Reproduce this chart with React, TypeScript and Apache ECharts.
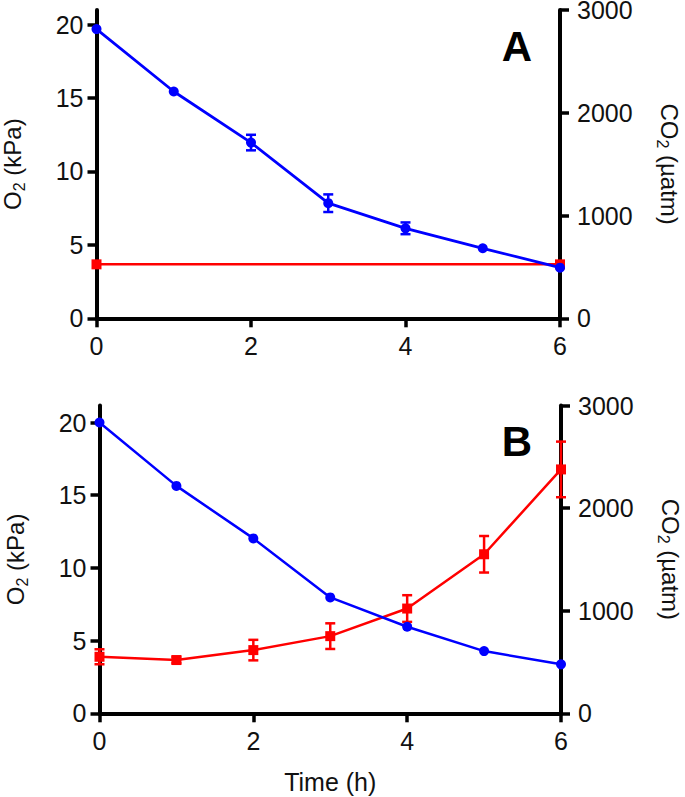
import React, { useEffect, useRef } from "react";
import * as echarts from "echarts";

// ---- data ----
const hours = [0, 1, 2, 3, 4, 5, 6];
const xTicks = [0, 2, 4, 6];
const o2Ticks = [0, 5, 10, 15, 20];
const co2Ticks = [0, 1000, 2000, 3000];

// Panel A
const o2A = [19.7, 15.45, 11.97, 7.84, 6.13, 4.77, 3.45];
const o2AErr = [0, 0, 0.53, 0.6, 0.4, 0, 0];
const co2AHours = [0, 6];
const co2A = [525, 525];

// Panel B
const o2B = [20.0, 15.64, 12.03, 7.97, 5.95, 4.28, 3.37];
const co2B = [551, 519, 616, 752, 1021, 1550, 2377];
const co2BErr = [73, 30, 100, 125, 130, 178, 271];

const FONT = "Liberation Sans, Arial, Helvetica, sans-serif";
const BLUE = "#0000ff";
const RED = "#ff0000";
const INK = "#111111";
const TICK_FS = 25;
const TITLE_FS = 24;

function errData(xs: number[], ys: number[], es: number[]) {
  const out: number[][] = [];
  xs.forEach((x, i) => {
    if (es[i] > 0) out.push([x, ys[i] - es[i], ys[i] + es[i]]);
  });
  return out;
}

function errSeries(data: number[][], color: string, xi: number, yi: number) {
  return {
    type: "custom",
    xAxisIndex: xi,
    yAxisIndex: yi,
    z: 3,
    silent: true,
    clip: false,
    data,
    encode: { x: 0, y: [1, 2] },
    renderItem: (params: any, api: any) => {
      const x = api.value(0);
      const lo = api.coord([x, api.value(1)]);
      const hi = api.coord([x, api.value(2)]);
      const half = 5;
      const st = { stroke: color, lineWidth: 2.5 };
      return {
        type: "group",
        children: [
          { type: "line", shape: { x1: lo[0], y1: lo[1], x2: hi[0], y2: hi[1] }, style: st },
          { type: "line", shape: { x1: lo[0] - half, y1: lo[1], x2: lo[0] + half, y2: lo[1] }, style: st },
          { type: "line", shape: { x1: hi[0] - half, y1: hi[1], x2: hi[0] + half, y2: hi[1] }, style: st },
        ],
      };
    },
  };
}

const richName = {
  n: { fontSize: TITLE_FS, fontFamily: FONT, color: INK, lineHeight: 22 },
  s: { fontSize: 16, fontFamily: FONT, color: INK, lineHeight: 6, padding: [14, 0, 0, 0] },
};

const axisLineStyle = { show: true, lineStyle: { color: "#000", width: 4 } };
const tickStyle = (vals: number[]) => ({
  show: true,
  length: 9,
  customValues: vals,
  lineStyle: { color: "#000", width: 3.5 },
});
const labelStyle = (vals: number[], margin: number) => ({
  customValues: vals,
  fontSize: TICK_FS,
  lineHeight: 18,
  fontFamily: FONT,
  color: INK,
  margin,
  formatter: (v: number) => String(v),
});

function xAxis(gi: number, withName: boolean) {
  return {
    type: "value",
    gridIndex: gi,
    min: 0,
    max: 6,
    interval: 2,
    axisLine: axisLineStyle,
    axisTick: tickStyle(xTicks),
    axisLabel: labelStyle(xTicks, 19),
    splitLine: { show: false },
    name: withName ? "Time (h)" : "",
    nameLocation: "middle",
    nameGap: 58,
    nameTextStyle: { fontSize: 25, lineHeight: 22, fontFamily: FONT, color: INK },
  };
}

function leftAxis(gi: number, max: number) {
  return {
    type: "value",
    gridIndex: gi,
    position: "left",
    min: 0,
    max,
    interval: 5,
    axisLine: axisLineStyle,
    axisTick: tickStyle(o2Ticks),
    axisLabel: labelStyle(o2Ticks, 13),
    splitLine: { show: false },
    name: "{n|O}{s|2}{n| (kPa)}",
    nameLocation: "middle",
    nameGap: 73,
    nameTextStyle: { rich: richName },
  };
}

function rightAxis(gi: number) {
  return {
    type: "value",
    gridIndex: gi,
    position: "right",
    min: 0,
    max: 3000,
    interval: 1000,
    axisLine: axisLineStyle,
    axisTick: tickStyle(co2Ticks),
    axisLabel: labelStyle(co2Ticks, 17),
    splitLine: { show: false },
    name: "{n|CO}{s|2}{n| (µatm)}",
    nameLocation: "middle",
    nameRotate: -90,
    nameGap: 98,
    nameTextStyle: { rich: richName },
  };
}

export default function App() {
  const ref = useRef<HTMLDivElement>(null);
  useEffect(() => {
    document.body.style.margin = "0";
    if (!ref.current) return;
    const chart = echarts.init(ref.current, null, { renderer: "svg" });
    const option: any = {
      animation: false,
      backgroundColor: "#ffffff",
      textStyle: { fontFamily: FONT },
      grid: [
        { left: 96.5, top: 10, width: 463.5, height: 308.3, outerBoundsMode: "none", containLabel: false },
        { left: 99.5, top: 405.5, width: 461.5, height: 307.8, outerBoundsMode: "none", containLabel: false },
      ],
      xAxis: [xAxis(0, false), xAxis(1, true)],
      yAxis: [leftAxis(0, 21), rightAxis(0), leftAxis(1, 21.17), rightAxis(1)],
      graphic: [
        {
          type: "text",
          x: 517,
          y: 46,
          style: { text: "A", fontSize: 42, fontWeight: "bold", fontFamily: FONT, fill: "#000", align: "center", verticalAlign: "middle" },
        },
        {
          type: "text",
          x: 517,
          y: 441,
          style: { text: "B", fontSize: 42, fontWeight: "bold", fontFamily: FONT, fill: "#000", align: "center", verticalAlign: "middle" },
        },
      ],
      series: [
        // Panel A
        {
          type: "line",
          xAxisIndex: 0,
          yAxisIndex: 1,
          data: co2AHours.map((h, i) => [h, co2A[i]]),
          symbol: "rect",
          symbolSize: 10,
          itemStyle: { color: RED },
          lineStyle: { color: RED, width: 2.5 },
          z: 2,
        },
        errSeries(errData(hours, o2A, o2AErr), BLUE, 0, 0),
        {
          type: "line",
          xAxisIndex: 0,
          yAxisIndex: 0,
          data: hours.map((h, i) => [h, o2A[i]]),
          symbol: "circle",
          symbolSize: 10,
          itemStyle: { color: BLUE },
          lineStyle: { color: BLUE, width: 2.8 },
          z: 4,
        },
        // Panel B
        errSeries(errData(hours, co2B, co2BErr), RED, 1, 3),
        {
          type: "line",
          xAxisIndex: 1,
          yAxisIndex: 3,
          data: hours.map((h, i) => [h, co2B[i]]),
          symbol: "rect",
          symbolSize: 10,
          itemStyle: { color: RED },
          lineStyle: { color: RED, width: 2.5 },
          z: 2,
        },
        {
          type: "line",
          xAxisIndex: 1,
          yAxisIndex: 2,
          data: hours.map((h, i) => [h, o2B[i]]),
          symbol: "circle",
          symbolSize: 10,
          itemStyle: { color: BLUE },
          lineStyle: { color: BLUE, width: 2.5 },
          z: 4,
        },
      ],
    };
    chart.setOption(option);
    return () => chart.dispose();
  }, []);
  return <div ref={ref} style={{ width: 685, height: 797 }} />;
}
